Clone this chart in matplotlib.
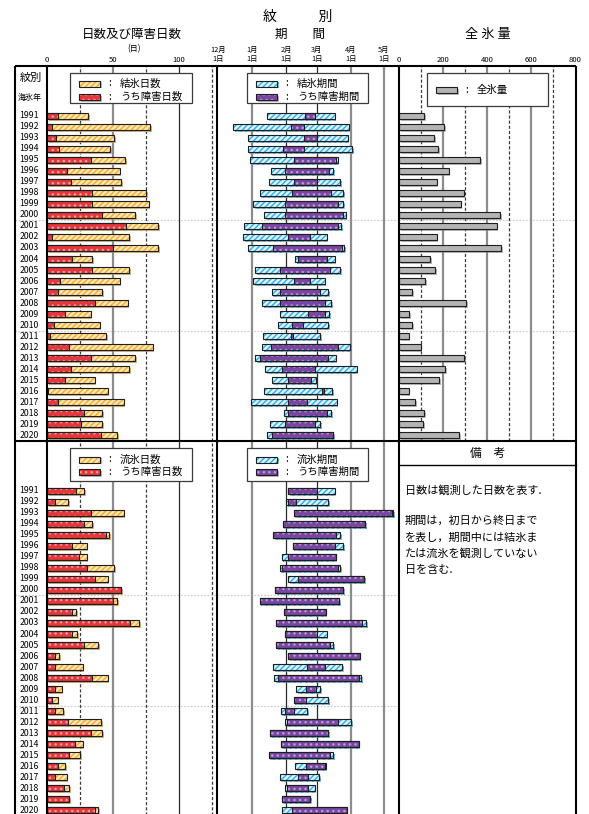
import matplotlib
matplotlib.use("Agg")
import matplotlib.pyplot as plt
import matplotlib.patheffects as pe
from matplotlib.patches import Rectangle

plt.rcParams['font.family'] = ['Noto Sans CJK JP', 'DejaVu Sans']
plt.rcParams['hatch.linewidth'] = 1.0

# ---------------- data ----------------
years = list(range(1991, 2021))

# 結氷 (freeze-up) section
freeze_days = [31, 78, 51, 48, 59, 55, 56, 75, 77, 67, 84, 62, 84, 34, 62,
               55, 42, 61, 33, 40, 45, 80, 67, 62, 36, 46, 58, 42, 42, 53]
freeze_obst_days = [8, 4, 7, 9, 33, 15, 18, 34, 34, 42, 60, 4, 50, 19, 34,
                    10, 8, 36, 14, 5, 2, 17, 33, 18, 14, 1, 8, 28, 26, 41]
freeze_start = ["1/15", "12/15", "12/28", "12/28", "12/30", "1/18", "1/16", "1/8", "1/2", "1/12",
                "12/25", "12/24", "12/28", "2/9", "1/4", "1/2", "1/19", "1/10", "1/26", "1/25",
                "1/11", "1/10", "1/4", "1/13", "1/19", "1/12", "12/31", "1/30", "1/17", "1/15"]
freeze_obst_start = ["2/18", "2/5", "2/17", "1/29", "2/8", "1/31", "2/8", "2/6", "1/31", "1/31",
                     "1/10", "2/3", "1/20", "2/12", "1/26", "2/8", "1/26", "1/26", "2/21", "2/6",
                     "2/5", "1/18", "1/8", "1/28", "2/3", "3/6", "2/3", "2/3", "1/31", "1/19"]
freeze_obst_end = ["2/26", "2/16", "2/28", "2/16", "3/17", "3/11", "2/28", "3/13", "3/19", "3/24",
                   "3/19", "2/22", "3/23", "3/9", "3/12", "2/22", "3/3", "3/7", "3/7", "2/15",
                   "2/6", "3/19", "3/10", "2/26", "2/23", "3/6", "2/19", "3/9", "2/26", "3/15"]
freeze_end = ["3/16", "3/29", "3/28", "4/1", "3/19", "3/15", "3/21", "3/24", "3/24", "3/26",
              "3/22", "3/9", "3/25", "3/16", "3/21", "3/7", "3/10", "3/13", "3/11", "3/10",
              "3/3", "3/30", "3/17", "4/5", "2/27", "3/14", "3/18", "3/13", "3/3", "3/15"]
total_ice = [115, 206, 161, 179, 368, 226, 171, 294, 280, 459, 444, 171, 465, 142, 165,
             120, 59, 306, 47, 59, 44, 98, 295, 211, 183, 44, 74, 114, 111, 274]

# 流氷 (drift ice) section
drift_days = [28, 16, 58, 34, 47, 30, 30, 51, 46, 56, 53, 22, 70, 23, 39,
              9, 27, 46, 11, 8, 12, 41, 42, 27, 25, 14, 15, 17, 17, 39]
drift_obst_days = [22, 6, 33, 28, 45, 19, 24, 30, 36, 56, 50, 19, 63, 19, 28,
                   6, 6, 34, 6, 4, 6, 16, 33, 21, 17, 8, 6, 13, 17, 36]
drift_start = ["2/3", "2/1", "2/8", "1/29", "1/20", "2/7", "1/28", "1/26", "2/3", "1/22",
               "1/8", "1/30", "1/23", "1/31", "1/23", "2/3", "1/20", "1/21", "2/10", "2/8",
               "1/27", "1/31", "1/17", "1/27", "1/16", "2/9", "1/26", "1/31", "1/28", "1/28"]
drift_obst_start = ["2/3", "2/3", "2/8", "1/29", "1/20", "2/7", "2/3", "1/28", "2/12", "1/22",
                    "1/8", "1/30", "1/23", "1/31", "1/23", "2/3", "2/20", "1/25", "2/19", "2/8",
                    "1/31", "2/2", "1/17", "1/27", "1/16", "2/19", "2/12", "2/2", "1/28", "2/6"]
drift_obst_end = ["2/28", "2/9", "5/7", "4/13", "3/17", "3/16", "3/17", "3/19", "4/12", "3/24",
                  "3/20", "3/8", "4/10", "2/28", "3/12", "4/8", "3/7", "4/7", "2/27", "2/18",
                  "2/7", "3/19", "3/10", "4/7", "3/12", "3/7", "2/20", "2/20", "2/22", "3/27"]
drift_end = ["3/16", "3/10", "5/8", "4/13", "3/21", "3/24", "3/17", "3/21", "4/12", "3/24",
             "3/20", "3/8", "4/14", "3/9", "3/15", "4/8", "3/23", "4/9", "3/3", "3/10",
             "2/19", "3/31", "3/10", "4/7", "3/15", "3/8", "3/2", "2/26", "2/22", "3/27"]

day_ticks = [0, 50, 100]
ice_ticks = [0, 200, 400, 600, 800]
month_ticks = [12, 1, 2, 3, 4, 5]

# ---------------- helpers ----------------
W, H = 589, 814
fig = plt.figure(figsize=(W / 100, H / 100), dpi=100)

MONTH_BASE = {12: -1, 1: 30, 2: 61, 3: 89, 4: 120, 5: 150}


def season_day(md):
    """Days counted from 1 December."""
    m, d = (int(v) for v in md.split('/'))
    return MONTH_BASE[m] + d


def px_axes(x0, y0, x1, y1, z=1):
    ax = fig.add_axes([x0 / W, 1 - y1 / H, (x1 - x0) / W, (y1 - y0) / H], zorder=z)
    ax.patch.set_visible(False)
    for s in ax.spines.values():
        s.set_visible(False)
    ax.set_xticks([])
    ax.set_yticks([])
    ax.set_ylim(29.545, -4.545)
    return ax


STYLES = {
    'orange': dict(face='#FFE7B0', hatch='//////', hcol='#F2AB30'),
    'red': dict(face='#E5373C', hatch='...', hcol='#FF9C9C'),
    'cyan': dict(face='#D9F3FF', hatch='//////', hcol='#2DAEE5'),
    'purple': dict(face='#7847A3', hatch='...', hcol='#B99CD8'),
    'gray': dict(face='#B4B4B4', hatch=None, hcol='#B4B4B4'),
}
SHADOW = [pe.SimplePatchShadow(offset=(1.2, -1.2), shadow_rgbFace='#808080', alpha=0.55), pe.Normal()]
BAR_H = 0.56


def styled_barh(ax, y, width, left, style, shadow=True):
    st = STYLES[style]
    bars = ax.barh(y, width, left=left, height=BAR_H, color=st['face'], hatch=st['hatch'],
                   edgecolor=st['hcol'], linewidth=0, zorder=3)
    if shadow:
        for b in bars:
            b.set_path_effects(SHADOW)
    ax.barh(y, width, left=left, height=BAR_H, fill=False, edgecolor='#1E1E1E',
            linewidth=0.8, zorder=4)


def styled_rect(ax, x, y, w, h, style):
    st = STYLES[style]
    ax.add_patch(Rectangle((x, y), w, h, facecolor=st['face'], hatch=st['hatch'],
                           edgecolor=st['hcol'], linewidth=0, path_effects=SHADOW))
    ax.add_patch(Rectangle((x, y), w, h, fill=False, edgecolor='#1E1E1E', linewidth=0.8))


DASH = (0, (2.5, 1.6))


def vline(ax, x, kind):
    if kind == 'dash':
        ax.axvline(x, color='#3A3A3A', lw=0.9, ls=DASH, zorder=1)
    elif kind == 'gray':
        ax.axvline(x, color='#8C8C8C', lw=1.6, zorder=1)
    else:
        ax.axvline(x, color='#2A2A2A', lw=0.9, zorder=1)


def separators(ax):
    for r in (9.5, 19.5):
        ax.axhline(r, color='#C8C8C8', lw=0.8, ls=(0, (1.5, 1.5)), zorder=0.5)


rows = list(range(len(years)))


def draw_section(y0, y1, tot, obst, p_start, p_obst_start, p_obst_end, p_end,
                 main_style, ticks):
    # year column
    ay = px_axes(15, y0, 47, y1)
    ay.set_xlim(0, 1)
    separators(ay)
    for r, yr in zip(rows, years):
        ay.text(0.44, r, str(yr), ha='center', va='center', fontsize=6.3)

    # days panel
    ad = px_axes(47, y0, 217, y1)
    ad.set_xlim(0, 170 / 1.32)
    separators(ad)
    for v, k in [(25, 'dash'), (50, 'gray'), (75, 'dash'), (100, 'dark'), (125, 'dash')]:
        vline(ad, v, k)
    styled_barh(ad, rows, tot, 0, main_style)
    styled_barh(ad, rows, obst, 0, 'red', shadow=False)

    # period panel
    ap = px_axes(217, y0, 399, y1)
    ap.set_xlim(-0.82, 164.6)
    separators(ap)
    jan, feb, mar, apr, may = (season_day(f"{m}/1") for m in (1, 2, 3, 4, 5))
    vline(ap, jan, 'gray')
    vline(ap, feb, 'dark')
    vline(ap, mar, 'dark')
    vline(ap, apr, 'gray')
    vline(ap, may, 'gray')
    s = [season_day(v) for v in p_start]
    e = [season_day(v) + 1 for v in p_end]
    os_ = [season_day(v) for v in p_obst_start]
    oe = [season_day(v) + 1 for v in p_obst_end]
    styled_barh(ap, rows, [b - a for a, b in zip(s, e)], s, 'cyan')
    styled_barh(ap, rows, [b - a for a, b in zip(os_, oe)], os_, 'purple', shadow=False)

    if ticks:
        ad.set_xticks(day_ticks)
        ad.set_xticklabels([str(v) for v in day_ticks])
        ad.tick_params(axis='x', top=True, bottom=False, labeltop=True, labelbottom=False,
                       length=0, pad=1.5, labelsize=5.5)
        ap.set_xticks([season_day(f"{m}/1") for m in month_ticks])
        ap.set_xticklabels([f"{m}月\n1日" for m in month_ticks], linespacing=1.25)
        ap.tick_params(axis='x', top=True, bottom=False, labeltop=True, labelbottom=False,
                       length=0, pad=2, labelsize=5.3)
    return ad, ap


# top section: 結氷
draw_section(66, 441, freeze_days, freeze_obst_days, freeze_start, freeze_obst_start,
             freeze_obst_end, freeze_end, 'orange', True)

# total ice panel
at = px_axes(399, 66, 575, 441)
at.set_xlim(0, 800)
separators(at)
for v in (100, 300, 500, 700):
    vline(at, v, 'dash')
for v in (200, 400, 600):
    vline(at, v, 'gray')
styled_barh(at, rows, total_ice, 0, 'gray')
at.set_xticks(ice_ticks)
at.set_xticklabels([str(v) for v in ice_ticks])
at.tick_params(axis='x', top=True, bottom=False, labeltop=True, labelbottom=False,
               length=0, pad=1.5, labelsize=5.5)

# bottom section: 流氷
draw_section(441, 816, drift_days, drift_obst_days, drift_start, drift_obst_start,
             drift_obst_end, drift_end, 'orange', False)

# ---------------- frame, headings, legends ----------------
ov = fig.add_axes([0, 0, 1, 1], zorder=10)
ov.set_xlim(0, W)
ov.set_ylim(H, 0)
ov.axis('off')
ov.patch.set_visible(False)

for x in (15, 47, 217, 399, 576):
    ov.plot([x, x], [66, H], color='black', lw=1.5, solid_capstyle='butt')
for y in (66, 441):
    ov.plot([15, 576], [y, y], color='black', lw=1.5, solid_capstyle='butt')
ov.plot([399, 576], [465, 465], color='black', lw=1.0)

ov.text(298, 17, "紋　　　別", ha='center', va='center', fontsize=10)
ov.text(132, 34, "日数及び障害日数", ha='center', va='center', fontsize=9)
ov.text(134, 49, "(日)", ha='center', va='center', fontsize=5.8)
ov.text(300, 34, "期　　間", ha='center', va='center', fontsize=9)
ov.text(488, 34, "全 氷 量", ha='center', va='center', fontsize=9.5)

ov.text(31, 78, "紋別", ha='center', va='center', fontsize=8)
ov.text(30, 97, "海氷年", ha='center', va='center', fontsize=5.8)


def legend_box(x0, y0, x1, y1, entries):
    ov.add_patch(Rectangle((x0, y0), x1 - x0, y1 - y0, facecolor='white',
                           edgecolor='#3A3A3A', linewidth=0.9))
    for style, label, yc in entries:
        styled_rect(ov, x0 + 9, yc - 3, 21, 6, style)
        ov.text(x0 + 40, yc, ":", ha='center', va='center', fontsize=7.5)
        ov.text(x0 + 50, yc, label, ha='left', va='center', fontsize=7.5)


legend_box(70, 73, 192, 103, [('orange', "結氷日数", 83.5), ('red', "うち障害日数", 97)])
legend_box(247, 73, 368, 103, [('cyan', "結氷期間", 83.5), ('purple', "うち障害期間", 97)])
legend_box(427, 73, 548, 106, [('gray', "全氷量", 90)])
legend_box(70, 448, 192, 481, [('orange', "流氷日数", 459.5), ('red', "うち障害日数", 472)])
legend_box(247, 448, 368, 481, [('cyan', "流氷期間", 459.5), ('purple', "うち障害期間", 472)])

ov.text(488, 453, "備　考", ha='center', va='center', fontsize=8.5)
ov.text(405, 490, "日数は観測した日数を表す.", ha='left', va='center', fontsize=8)
note = ["期間は，初日から終日まで", "を表し，期間中には結氷ま", "たは流氷を観測していない", "日を含む."]
for i, line in enumerate(note):
    ov.text(405, 521 + 16.3 * i, line, ha='left', va='center', fontsize=8)

fig.savefig("out.png", dpi=100, facecolor='white')
